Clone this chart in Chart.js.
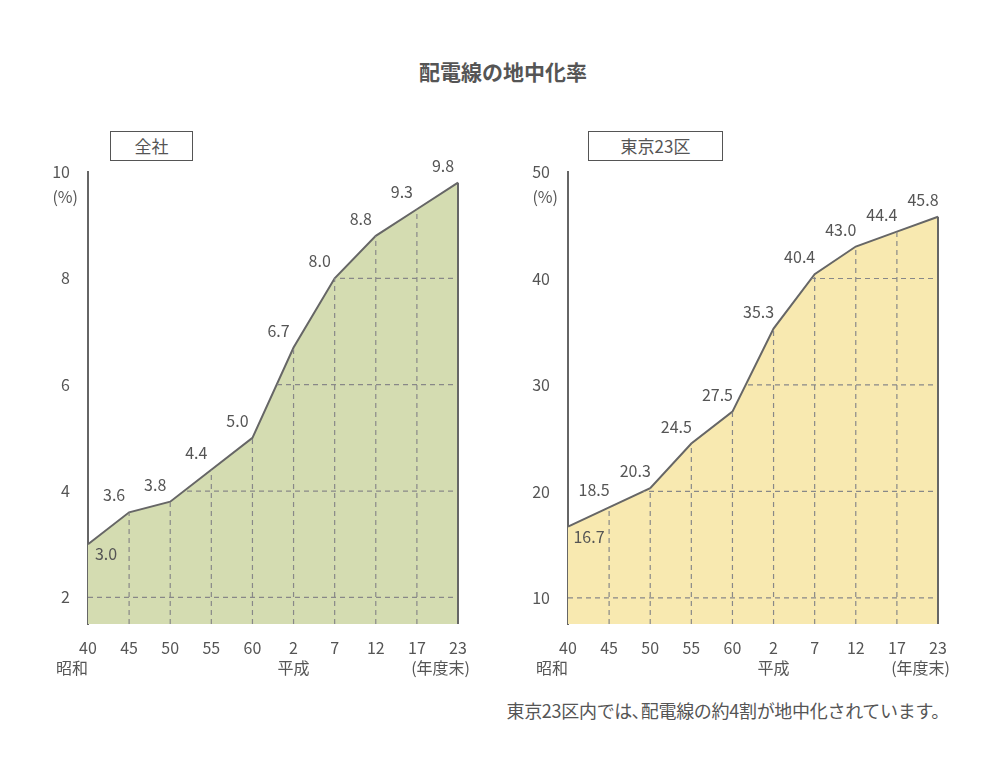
<!DOCTYPE html>
<html><head><meta charset="utf-8">
<script src="https://cdn.jsdelivr.net/npm/chart.js@4"></script>
<style>
body{margin:0;width:1006px;height:762px;background:#fff;position:relative;font-family:"Noto Sans CJK JP","Noto Sans",sans-serif;color:#555;overflow:hidden}
canvas{position:absolute;top:0}
.title{position:absolute;top:56px;left:0;width:1006px;text-align:center;font-size:21px;font-weight:bold}
.box{position:absolute;top:131px;height:28px;border:1.5px solid #555;font-size:17px;line-height:28px;text-align:center;background:#fff}
.note{position:absolute;top:697px;right:57px;font-size:18px;letter-spacing:-0.3px}
</style></head><body>
<div class="title">配電線の地中化率</div>
<div class="box" style="left:110px;width:81px">全社</div>
<div class="box" style="left:588px;width:133px">東京23区</div>
<div class="note">東京23区内では､配電線の約4割が地中化されています。</div>
<div style="position:absolute;left:0;top:0;width:500px;height:700px"><canvas id="c1"></canvas></div>
<div style="position:absolute;left:480px;top:0;width:500px;height:700px"><canvas id="c2"></canvas></div>
<script>
// --- データ ---
const years = ["40","45","50","55","60","2","7","12","17","23"];
const eraLabels = ["昭和","","","","","平成","","","","(年度末)"];
const allCompany = [3.0,3.6,3.8,4.4,5.0,6.7,8.0,8.8,9.3,9.8];
const tokyo23 = [16.7,18.5,20.3,24.5,27.5,35.3,40.4,43.0,44.4,45.8];
const ticksAll = [2,4,6,8,10];
const ticksTokyo = [10,20,30,40,50];

const TXT = '#555';
const LINE = '#666';

// 塗り領域の中だけに点線グリッドを描く
const areaGrid = {
  id:'areaGrid',
  afterDatasetsDraw(chart, args, opts){
    const ctx = chart.ctx, ca = chart.chartArea;
    const pts = chart.getDatasetMeta(0).data;
    const x = chart.scales.x, y = chart.scales.y;
    ctx.save();
    ctx.beginPath();
    ctx.moveTo(pts[0].x, ca.bottom);
    pts.forEach(p => ctx.lineTo(p.x, p.y));
    ctx.lineTo(pts[pts.length-1].x, ca.bottom);
    ctx.closePath();
    ctx.clip();
    ctx.strokeStyle = '#888'; ctx.lineWidth = 1.2; ctx.setLineDash([5,4]);
    opts.ticks.forEach(t => {
      const py = y.getPixelForValue(t);
      ctx.beginPath(); ctx.moveTo(ca.left, py); ctx.lineTo(ca.right, py); ctx.stroke();
    });
    pts.forEach((p,i) => {
      if (i === 0 || i === pts.length-1) return;
      ctx.beginPath(); ctx.moveTo(p.x, ca.bottom); ctx.lineTo(p.x, p.y); ctx.stroke();
    });
    ctx.restore();
    // 右端の縦線
    const last = pts[pts.length-1];
    ctx.save();
    ctx.strokeStyle = LINE; ctx.lineWidth = 2;
    ctx.beginPath(); ctx.moveTo(last.x, last.y); ctx.lineTo(last.x, ca.bottom); ctx.stroke();
    // 値ラベル
    ctx.fillStyle = TXT; ctx.font = '16px "Noto Sans CJK JP"';
    ctx.textAlign = 'center'; ctx.textBaseline = 'middle';
    const vals = chart.data.datasets[0].data;
    pts.forEach((p,i) => {
      const s = vals[i].toFixed(1);
      if (i === 0) ctx.fillText(s, p.x + (s.length > 3 ? 21 : 18), p.y + 10);
      else ctx.fillText(s, p.x - 15, p.y - 17);
    });
    ctx.textAlign = 'right';
    ctx.fillText('(%)', ca.left - 10, y.getPixelForValue(opts.ticks[opts.ticks.length-1]) + 25);
    // 元号ラベル（2段目）
    eraLabels.forEach((t,i) => {
      if (!t) return;
      const px = x.getPixelForValue(i);
      if (i === 0) { ctx.textAlign = 'right'; ctx.fillText(t, px, 668); }
      else if (i === eraLabels.length-1) { ctx.textAlign = 'right'; ctx.fillText(t, px + 12, 668); }
      else { ctx.textAlign = 'center'; ctx.fillText(t, px, 668); }
    });
    ctx.restore();
  }
};

function makeChart(id, data, ticks, min, fill){
  new Chart(document.getElementById(id), {
    type:'line',
    data:{ labels: years, datasets:[{
      data, borderColor: LINE, borderWidth: 2, backgroundColor: fill,
      fill: 'start', pointRadius: 0, tension: 0, clip: false
    }]},
    plugins:[areaGrid],
    options:{
      responsive:true, maintainAspectRatio:false, animation:false,
      layout:{ padding:{ left:48, right:42, top:172, bottom:16 } },
      plugins:{ legend:{display:false}, tooltip:{enabled:false}, areaGrid:{ ticks } },
      scales:{
        x:{ offset:false, grid:{display:false}, border:{display:false},
            ticks:{ color:TXT, font:{size:16, family:'Noto Sans CJK JP'}, padding:6, maxRotation:0, autoSkip:false },
            afterFit(s){ s.height = 60; } },
        y:{ min, max: ticks[ticks.length-1], grid:{display:false},
            border:{display:true, color:LINE, width:2},
            afterBuildTicks(s){ s.ticks = ticks.map(v => ({value:v})); },
            ticks:{ color:TXT, font:{size:16, family:'Noto Sans CJK JP'}, padding:10 },
            afterFit(s){ s.width = 40; } }
      }
    }
  });
}

makeChart('c1', allCompany, ticksAll, 1.5, '#d4dcb1');
makeChart('c2', tokyo23, ticksTokyo, 7.55, '#f8e9b0');
</script>
</body></html>
